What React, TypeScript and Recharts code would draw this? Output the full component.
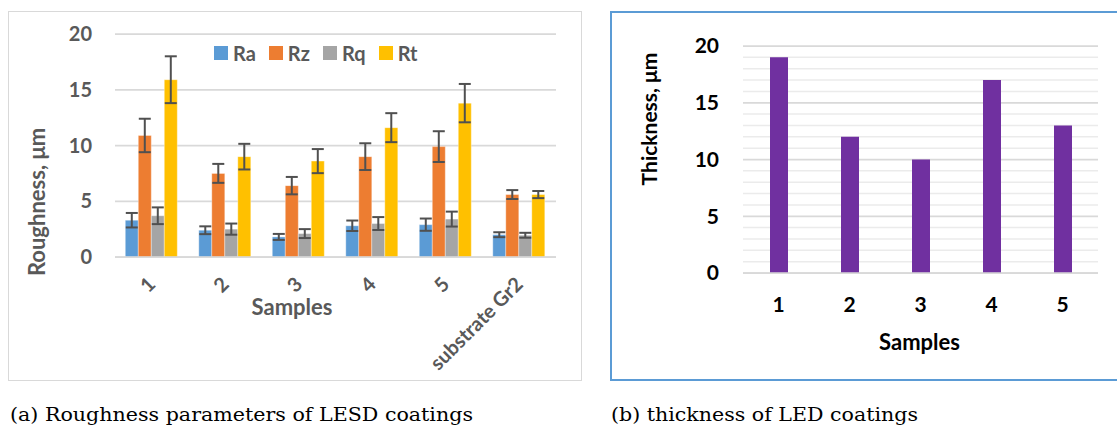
import React from 'react';
import { BarChart, Bar, XAxis, YAxis, CartesianGrid, ErrorBar, Legend } from 'recharts';

const FONT = 'Lato, "Open Sans", sans-serif';
const SERIF = '"DejaVu Serif", serif';

// ---- Chart (a): roughness ----
const categoriesA = ['1', '2', '3', '4', '5', 'substrate Gr2'];
const seriesNames = ['Ra', 'Rz', 'Rq', 'Rt'];
const seriesColors = ['#5B9BD5', '#ED7D31', '#A5A5A5', '#FFC000'];
const ra = [3.3, 2.4, 1.8, 2.8, 2.9, 2.0];
const raErr = [0.65, 0.35, 0.27, 0.47, 0.55, 0.22];
const rz = [10.9, 7.5, 6.4, 9.0, 9.9, 5.6];
const rzErr = [1.5, 0.85, 0.78, 1.2, 1.38, 0.4];
const rq = [3.7, 2.5, 2.1, 3.0, 3.4, 1.95];
const rqErr = [0.75, 0.5, 0.4, 0.58, 0.67, 0.22];
const rt = [15.9, 9.0, 8.6, 11.6, 13.8, 5.6];
const rtErr = [2.1, 1.15, 1.08, 1.3, 1.72, 0.32];
const roughTicks = [0, 5, 10, 15, 20];

// ---- Chart (b): thickness ----
const categoriesB = ['1', '2', '3', '4', '5'];
const thickness = [19, 12, 10, 17, 13];
const thickTicks = [0, 5, 10, 15, 20];
const thickMinorTicks = [1, 2, 3, 4, 6, 7, 8, 9, 11, 12, 13, 14, 16, 17, 18, 19];

const captionA = '(a) Roughness parameters of LESD coatings';
const captionB = '(b) thickness of LED coatings';

const seriesValues = [ra, rz, rq, rt];
const seriesErrors = [raErr, rzErr, rqErr, rtErr];

const dataA = categoriesA.map((c, i) => {
  const row: any = { name: c };
  seriesNames.forEach((s, k) => {
    row[s] = seriesValues[k][i];
    row[s + 'Err'] = seriesErrors[k][i];
  });
  return row;
});
const dataB = categoriesB.map((c, i) => ({ name: c, thickness: thickness[i] }));

const GRAY_TEXT = '#595959';

const TickA = (props: any) => {
  const { x, y, payload } = props;
  const ax = x + 5;
  const ay = y + 20.5;
  return (
    <text x={ax} y={ay} transform={`rotate(-45, ${ax}, ${ay})`} textAnchor="end"
      fill={GRAY_TEXT} fontFamily={FONT} fontWeight={700} fontSize={20}>
      {payload.value}
    </text>
  );
};

const TickB = (props: any) => {
  const { x, y, payload } = props;
  return (
    <text x={x} y={y + 23.5} dy="0.36em" textAnchor="middle"
      fill="#000" fontFamily={FONT} fontWeight={700} fontSize={21}>
      {payload.value}
    </text>
  );
};

const LegendA = () => (
  <div style={{ display: 'flex', alignItems: 'center', fontFamily: FONT, fontWeight: 700, fontSize: 20, color: GRAY_TEXT, lineHeight: '20px', whiteSpace: 'nowrap' }}>
    {seriesNames.map((n, i) => (
      <div key={n} style={{ display: 'flex', alignItems: 'center', marginRight: 13 }}>
        <span style={{ width: 14, height: 14, background: seriesColors[i], marginRight: 5, display: 'inline-block' }} />
        <span>{n}</span>
      </div>
    ))}
  </div>
);

export default function App() {
  return (
    <div style={{ position: 'absolute', left: 0, top: 0, width: 1117, height: 425, overflow: 'hidden', background: '#fff' }}>
      {/* Panel (a) */}
      <div style={{ position: 'absolute', left: 8, top: 11, width: 574, height: 370, border: '1px solid #d9d9d9', boxSizing: 'border-box' }}>
        <BarChart width={572} height={368} data={dataA} margin={{ top: 22, right: 25, bottom: 0, left: 0 }}
          barCategoryGap="14%" barGap={0}>
          <CartesianGrid vertical={false} stroke="#d9d9d9" strokeWidth={1.75} />
          <XAxis dataKey="name" height={123} interval={0} tick={TickA} tickLine={false}
            axisLine={{ stroke: '#d9d9d9', strokeWidth: 1.75 }}
            label={(p: any) => {
              const vb = p.viewBox || { x: 106, y: 245 };
              return (
                <text x={vb.x + 177} y={vb.y + 49} textAnchor="middle" dominantBaseline="central"
                  fill={GRAY_TEXT} fontFamily={FONT} fontWeight={700} fontSize={22}>Samples</text>
              );
            }} />
          <YAxis width={106} domain={[0, 20]} ticks={roughTicks} interval={0} tickLine={false} axisLine={false}
            tickMargin={17}
            tick={{ fill: GRAY_TEXT, fontFamily: FONT, fontWeight: 700, fontSize: 20 }}
            label={(p: any) => {
              const vb = p.viewBox || { x: 0, y: 22 };
              const lx = vb.x + 27.7;
              const ly = 190;
              return (
                <text x={lx} y={ly} transform={`rotate(-90, ${lx}, ${ly})`} textAnchor="middle" dominantBaseline="central"
                  fill={GRAY_TEXT} fontFamily={FONT} fontWeight={700} fontSize={22}>Roughness, μm</text>
              );
            }} />
          <Legend layout="horizontal" verticalAlign="middle" align="center" content={LegendA}
            wrapperStyle={{ top: 31, left: 205, width: 'auto', height: 20 }} />
          {seriesNames.map((s, k) => (
            <Bar key={s} dataKey={s} fill={seriesColors[k]} stroke="#ffffff" strokeOpacity={0.35} strokeWidth={1} isAnimationActive={false}>
              <ErrorBar dataKey={s + 'Err'} width={6} stroke="#505050" strokeWidth={2} direction="y" />
            </Bar>
          ))}
        </BarChart>
      </div>

      {/* Panel (b) */}
      <div style={{ position: 'absolute', left: 610, top: 11, width: 560, height: 370, border: '2px solid #5B9BD5', boxSizing: 'border-box' }}>
        <BarChart width={556} height={366} data={dataB} margin={{ top: 33, right: 70, bottom: 0, left: 0 }}>
          <CartesianGrid vertical={false} horizontalValues={thickMinorTicks} stroke="#ebebeb" strokeWidth={1.5} />
          <CartesianGrid vertical={false} stroke="#d9d9d9" strokeWidth={1.75} />
          <XAxis dataKey="name" height={106} interval={0} tick={TickB} tickLine={false}
            axisLine={{ stroke: '#d9d9d9', strokeWidth: 1.75 }}
            label={(p: any) => {
              const vb = p.viewBox || { x: 131, y: 260 };
              return (
                <text x={307.5} y={vb.y + 68.5} textAnchor="middle" dominantBaseline="central"
                  fill="#000" fontFamily={FONT} fontWeight={700} fontSize={22}>Samples</text>
              );
            }} />
          <YAxis width={131} domain={[0, 20]} ticks={thickTicks} interval={0} tickLine={false} axisLine={false}
            tickMargin={18}
            tick={{ fill: '#000', fontFamily: FONT, fontWeight: 700, fontSize: 21 }}
            label={() => {
              const lx = 36.5;
              const ly = 106;
              return (
                <text x={lx} y={ly} transform={`rotate(-90, ${lx}, ${ly})`} textAnchor="middle" dominantBaseline="central"
                  fill="#000" fontFamily={FONT} fontWeight={700} fontSize={21}>Thickness, μm</text>
              );
            }} />
          <Bar dataKey="thickness" fill="#7030A0" barSize={18} isAnimationActive={false} />
        </BarChart>
      </div>

      {/* Captions */}
      <svg width={1117} height={425} style={{ position: 'absolute', left: 0, top: 0, pointerEvents: 'none' }}>
        <text x={10} y={421} fontFamily={SERIF} fontSize={19} fill="#000" textLength={463} lengthAdjust="spacingAndGlyphs">{captionA}</text>
        <text x={611} y={421} fontFamily={SERIF} fontSize={19} fill="#000" textLength={307} lengthAdjust="spacingAndGlyphs">{captionB}</text>
      </svg>
    </div>
  );
}
